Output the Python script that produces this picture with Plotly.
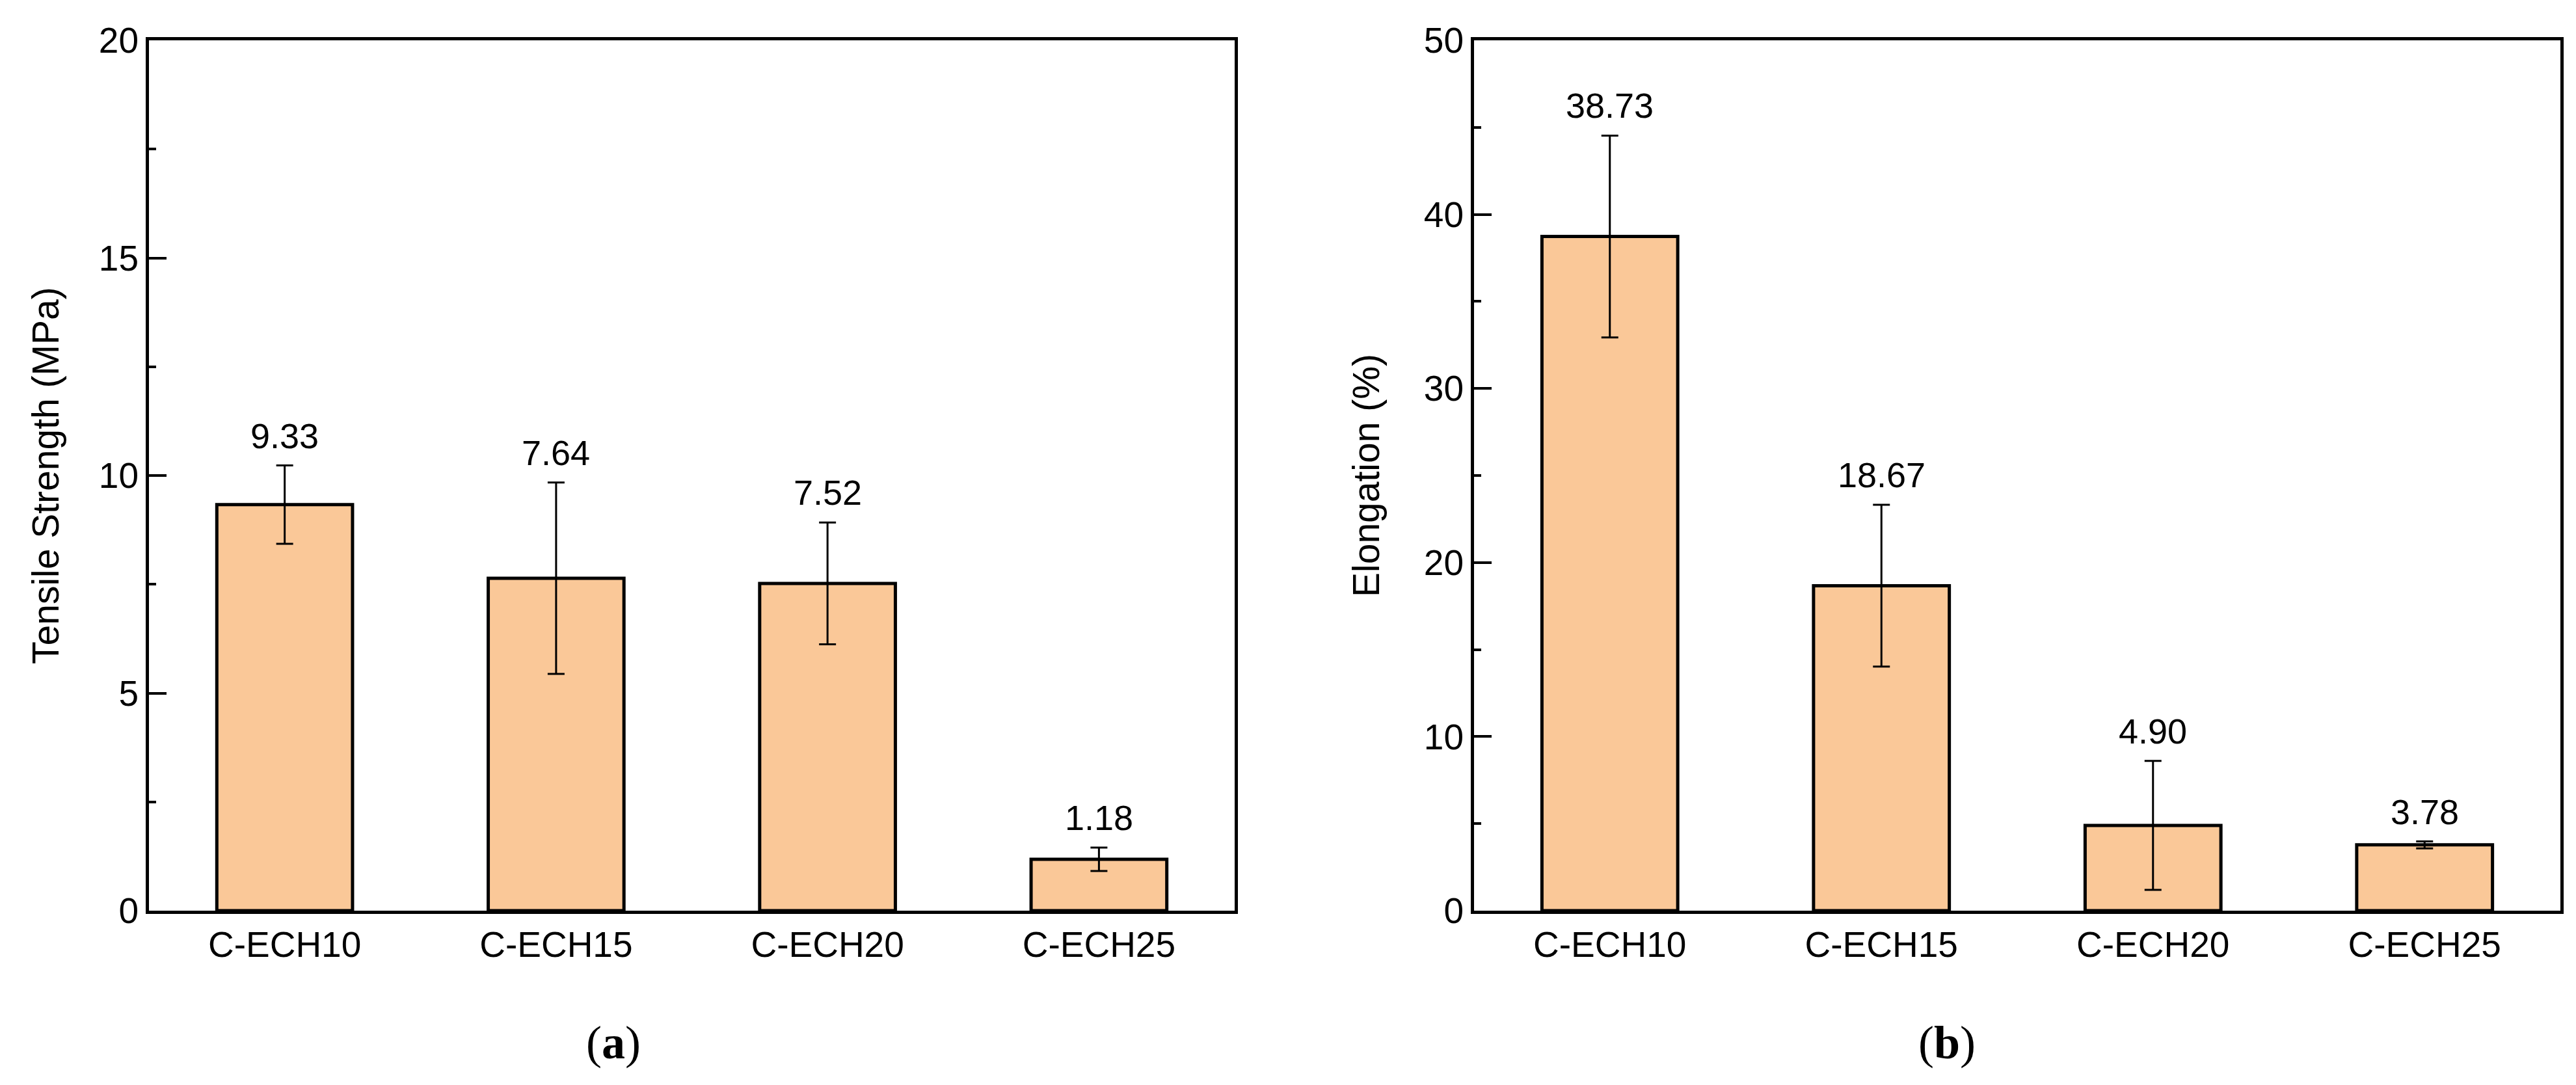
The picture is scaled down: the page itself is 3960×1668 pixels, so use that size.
import plotly.graph_objects as go

categories = ["C-ECH10", "C-ECH15", "C-ECH20", "C-ECH25"]
tensile_strength = [9.33, 7.64, 7.52, 1.18]
tensile_err = [0.90, 2.20, 1.40, 0.27]
elongation = [38.73, 18.67, 4.90, 3.78]
elongation_err = [5.80, 4.65, 3.70, 0.20]

W, H = 3960, 1668
FONT = "Arial, Liberation Sans, sans-serif"
SERIF = "Times New Roman, Liberation Serif, serif"
BAR_COLOR = "rgb(250,200,152)"

fig = go.Figure()

fig.add_trace(go.Bar(
    x=categories, y=tensile_strength, width=0.5,
    marker=dict(color=BAR_COLOR, line=dict(color="black", width=5)),
    error_y=dict(type="data", array=tensile_err, color="black", thickness=3, width=13),
    xaxis="x", yaxis="y", showlegend=False,
))
fig.add_trace(go.Bar(
    x=categories, y=elongation, width=0.5,
    marker=dict(color=BAR_COLOR, line=dict(color="black", width=5)),
    error_y=dict(type="data", array=elongation_err, color="black", thickness=3, width=13),
    xaxis="x2", yaxis="y2", showlegend=False,
))

ytop, ybot = 54, 1392
ydom = [1 - ybot / H, 1 - ytop / H]
xdom1 = [221 / W, 1890 / W]
xdom2 = [2258 / W, 3928 / W]

axis_common = dict(showline=True, linecolor="black", linewidth=5, mirror=True,
                   showgrid=False, zeroline=False, automargin=False,
                   tickfont=dict(family=FONT, size=55, color="black"))

fig.update_layout(
    template="none",
    width=W, height=H,
    margin=dict(l=0, r=0, t=0, b=0, autoexpand=False),
    paper_bgcolor="white", plot_bgcolor="white",
    bargap=0.5,
    xaxis=dict(domain=xdom1, range=[-0.5, 3.5], ticks="", anchor="y", **axis_common),
    yaxis=dict(domain=ydom, range=[0, 20], dtick=5, ticks="inside", ticklen=27, tickwidth=4,
               tickcolor="black", anchor="x",
               minor=dict(dtick=2.5, ticks="inside", ticklen=11, tickwidth=4, tickcolor="black"),
               **axis_common),
    xaxis2=dict(domain=xdom2, range=[-0.5, 3.5], ticks="", anchor="y2", **axis_common),
    yaxis2=dict(domain=ydom, range=[0, 50], dtick=10, ticks="inside", ticklen=27, tickwidth=4,
                tickcolor="black", anchor="x2",
                minor=dict(dtick=5, ticks="inside", ticklen=11, tickwidth=4, tickcolor="black"),
                **axis_common),
)

annotations = []
for c, v, e in zip(categories, tensile_strength, tensile_err):
    annotations.append(dict(x=c, y=v + e, xref="x", yref="y", text=f"{v:.2f}",
                            showarrow=False, yanchor="bottom", yshift=14,
                            font=dict(family=FONT, size=54, color="black")))
for c, v, e in zip(categories, elongation, elongation_err):
    annotations.append(dict(x=c, y=v + e, xref="x2", yref="y2", text=f"{v:.2f}",
                            showarrow=False, yanchor="bottom", yshift=14,
                            font=dict(family=FONT, size=54, color="black")))

ymid = 1 - (ytop + ybot) / 2 / H
annotations.append(dict(x=62 / W, y=ymid, xref="paper", yref="paper",
                        text="Tensile Strength (MPa)", textangle=-90, showarrow=False,
                        xanchor="center", yanchor="middle",
                        font=dict(family=FONT, size=57, color="black")))
annotations.append(dict(x=2092 / W, y=ymid, xref="paper", yref="paper",
                        text="Elongation (%)", textangle=-90, showarrow=False,
                        xanchor="center", yanchor="middle",
                        font=dict(family=FONT, size=57, color="black")))

annotations.append(dict(x=935 / W, y=1 - 1595 / H, xref="paper", yref="paper",
                        text="(<b>a</b>)", showarrow=False, xanchor="center", yanchor="middle",
                        font=dict(family=SERIF, size=72, color="black")))
annotations.append(dict(x=2985 / W, y=1 - 1595 / H, xref="paper", yref="paper",
                        text="(<b>b</b>)", showarrow=False, xanchor="center", yanchor="middle",
                        font=dict(family=SERIF, size=72, color="black")))

fig.update_layout(annotations=annotations)

fig.write_html("out.html")
